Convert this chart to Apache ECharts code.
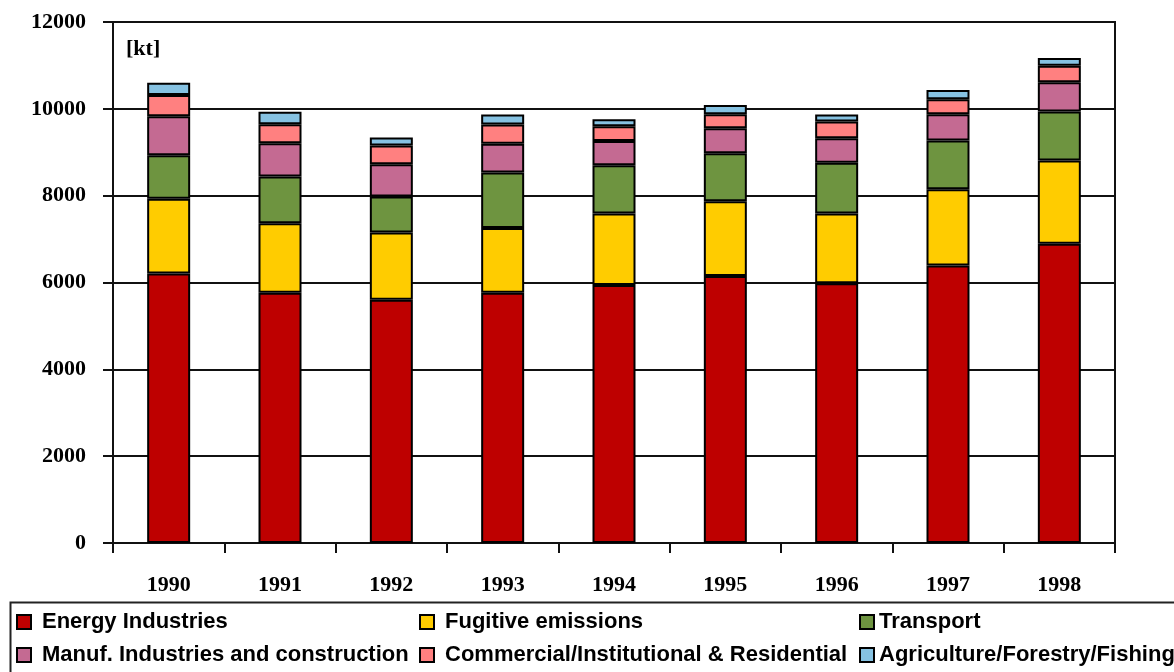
<!DOCTYPE html>
<html>
<head>
<meta charset="utf-8">
<script src="https://cdn.jsdelivr.net/npm/echarts@6/dist/echarts.min.js"></script>
<style>
html,body{margin:0;padding:0;background:#fff;}
#main{width:1174px;height:672px;}
</style>
</head>
<body>
<div id="main"></div>
<script>
var years = ['1990','1991','1992','1993','1994','1995','1996','1997','1998'];
var energyIndustries = [6210, 5765, 5600, 5765, 5940, 6150, 5980, 6390, 6890];
var fugitiveEmissions = [1720, 1600, 1550, 1490, 1650, 1720, 1610, 1760, 1920];
var transport = [1000, 1075, 830, 1280, 1110, 1105, 1170, 1120, 1130];
var manufIndustries = [900, 770, 745, 660, 560, 575, 560, 605, 670];
var commercialResidential = [490, 435, 430, 445, 340, 325, 390, 345, 385];
var agricultureForestry = [280, 285, 185, 230, 160, 215, 160, 215, 175];
var yTicks = [0, 2000, 4000, 6000, 8000, 10000, 12000];

var names = ['Energy Industries', 'Fugitive emissions', 'Transport',
  'Manuf. Industries and construction', 'Commercial/Institutional & Residential',
  'Agriculture/Forestry/Fishing'];
var values = [energyIndustries, fugitiveEmissions, transport, manufIndustries,
  commercialResidential, agricultureForestry];
var colors = ['#BE0000', '#FFCC00', '#6E9440', '#C46A92', '#FF8080', '#86C2E2'];

var chart = echarts.init(document.getElementById('main'), null, {renderer: 'canvas'});

var series = names.map(function (n, i) {
  return {
    name: n,
    type: 'bar',
    stack: 'total',
    barWidth: 43,
    data: values[i],
    itemStyle: {color: colors[i], borderColor: '#000', borderWidth: 2}
  };
});

var legendText = {fontFamily: 'Liberation Sans', fontWeight: 'bold', fontSize: 22, color: '#000', lineHeight: 22, padding: [0, 0, 0, 5]};
function mkLegend(left, data, pad) {
  var ts = Object.assign({}, legendText, {padding: [0, 0, 0, pad]});
  return {
    orient: 'vertical', left: left, top: 611, itemGap: 11,
    itemWidth: 14, itemHeight: 14, icon: 'rect',
    selectedMode: false, padding: 0,
    itemStyle: {borderColor: '#000', borderWidth: 2},
    textStyle: ts,
    data: data
  };
}

chart.setOption({
  animation: false,
  backgroundColor: '#fff',
  grid: {left: 113, right: 59, top: 22, bottom: 129, show: true, borderColor: '#111', borderWidth: 2},
  legend: [
    mkLegend(16, [names[0], names[3]], 6),
    mkLegend(419, [names[1], names[4]], 6),
    mkLegend(859, [names[2], names[5]], 0)
  ],
  xAxis: {
    type: 'category',
    data: years,
    axisLine: {lineStyle: {color: '#111', width: 2}},
    axisTick: {show: true, length: 10, lineStyle: {color: '#111', width: 2}},
    axisLabel: {margin: 31, color: '#000', fontFamily: 'Liberation Serif', fontWeight: 'bold', fontSize: 22}
  },
  yAxis: {
    type: 'value',
    min: yTicks[0], max: yTicks[yTicks.length - 1], interval: 2000,
    axisLine: {show: true, lineStyle: {color: '#111', width: 2}},
    axisTick: {show: true, length: 10, lineStyle: {color: '#111', width: 2}},
    splitLine: {lineStyle: {color: '#111', width: 2}},
    axisLabel: {margin: 27, color: '#000', fontFamily: 'Liberation Serif', fontWeight: 'bold', fontSize: 22,
      formatter: function (v) { return String(v); }}
  },
  graphic: [
    {type: 'text', left: 126, top: 38, style: {text: '[kt]', fill: '#000', font: 'bold 22px "Liberation Serif"'}},
    {type: 'rect', left: 8, top: 600, shape: {width: 1200, height: 100}, style: {fill: 'none', stroke: '#222', lineWidth: 2}, z: -1}
  ],
  series: series
});
</script>
</body>
</html>
